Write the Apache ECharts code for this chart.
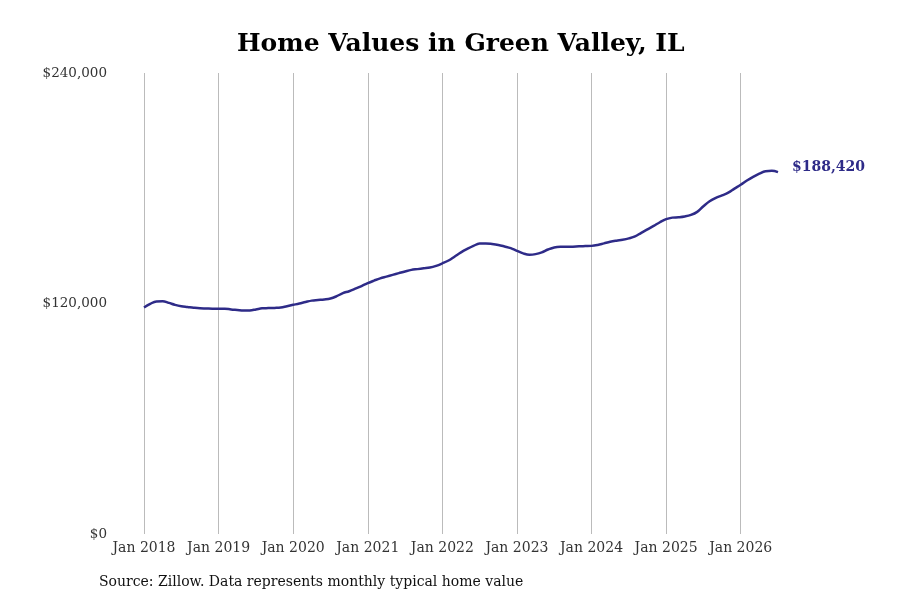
<!DOCTYPE html>
<html>
<head>
<meta charset="utf-8">
<script src="https://cdn.jsdelivr.net/npm/echarts@6/dist/echarts.min.js"></script>
<style>html,body{margin:0;padding:0;background:#fff}#c{width:900px;height:600px}</style>
</head>
<body>
<div id="c"></div>
<script>
const years = ['2018','2019','2020','2021','2022','2023','2024','2025','2026'];
const monthsPerYear = ['Jan','Feb','Mar','Apr','May','Jun','Jul','Aug','Sep','Oct','Nov','Dec'];
const homeValues = [
  117900,119800,121100,121200,120300,119300,118600,118200,117800,117500,117400,117300,
  117300,117300,116900,116600,116300,116400,116900,117500,117600,117700,117900,118600,
  119300,120000,120800,121500,121800,122100,122600,123800,125400,126400,127700,129100,
  130600,131900,133100,134000,134900,135800,136700,137500,137900,138300,138700,139600,
  140900,142400,144500,146600,148400,150000,151200,151300,151000,150500,149700,148800,
  147400,146100,145400,145700,146600,148100,149200,149500,149500,149600,149800,149900,
  150000,150500,151300,152100,152700,153200,153900,154900,156800,158600,160400,162300,
  163900,164700,164900,165300,166100,167700,170600,173200,175000,176300,177700,179800,
  181800,184000,185900,187600,188900,189100,188420
];
const yTicks = [0,120000,240000];
const categories = homeValues.map((v,i)=> monthsPerYear[i%12] + ' ' + years[Math.floor(i/12)]);

const serif = '"DejaVu Serif", "Liberation Serif", serif';
const chart = echarts.init(document.getElementById('c'));
chart.setOption({
  animation:false,
  backgroundColor:'#fff',
  title:{
    text:'Home Values in Green Valley, IL',
    left:232, top:27,
    textStyle:{fontFamily:serif,fontSize:25,fontWeight:'bold',color:'#000'}
  },
  graphic:[{
    type:'text', left:99, top:575,
    style:{text:'Source: Zillow. Data represents monthly typical home value',
      font:'14px "DejaVu Serif", serif', fill:'#111'}
  }],
  grid:{left:144,right:122,top:73,bottom:66},
  xAxis:{
    type:'category', data:categories, boundaryGap:false,
    axisLine:{show:false}, axisTick:{show:false},
    axisLabel:{
      interval:(i)=> i%12===0, margin:7,
      fontFamily:serif, fontSize:14, color:'#333'
    },
    splitLine:{show:true, interval:(i)=> i%12===0, lineStyle:{color:'#bbb',width:1}}
  },
  yAxis:{
    type:'value', min:0, max:240000, interval:120000,
    axisLine:{show:false}, axisTick:{show:false}, splitLine:{show:false},
    axisLabel:{
      margin:37, fontFamily:serif, fontSize:13.5, color:'#333', padding:[4,0,0,0],
      formatter:(v)=> yTicks.includes(v) ? '$' + v.toLocaleString('en-US') : ''
    }
  },
  series:[{
    type:'line', data:homeValues, smooth:0.4, showSymbol:false,
    lineStyle:{color:'#2e2b88',width:2.5},
    itemStyle:{color:'#2e2b88'},
    endLabel:{
      show:true, distance:14, offset:[0,-5],
      formatter:(p)=> '$' + p.value.toLocaleString('en-US'),
      fontFamily:serif, fontSize:14, fontWeight:'bold', color:'#2e2b88'
    }
  }]
});
</script>
</body>
</html>
